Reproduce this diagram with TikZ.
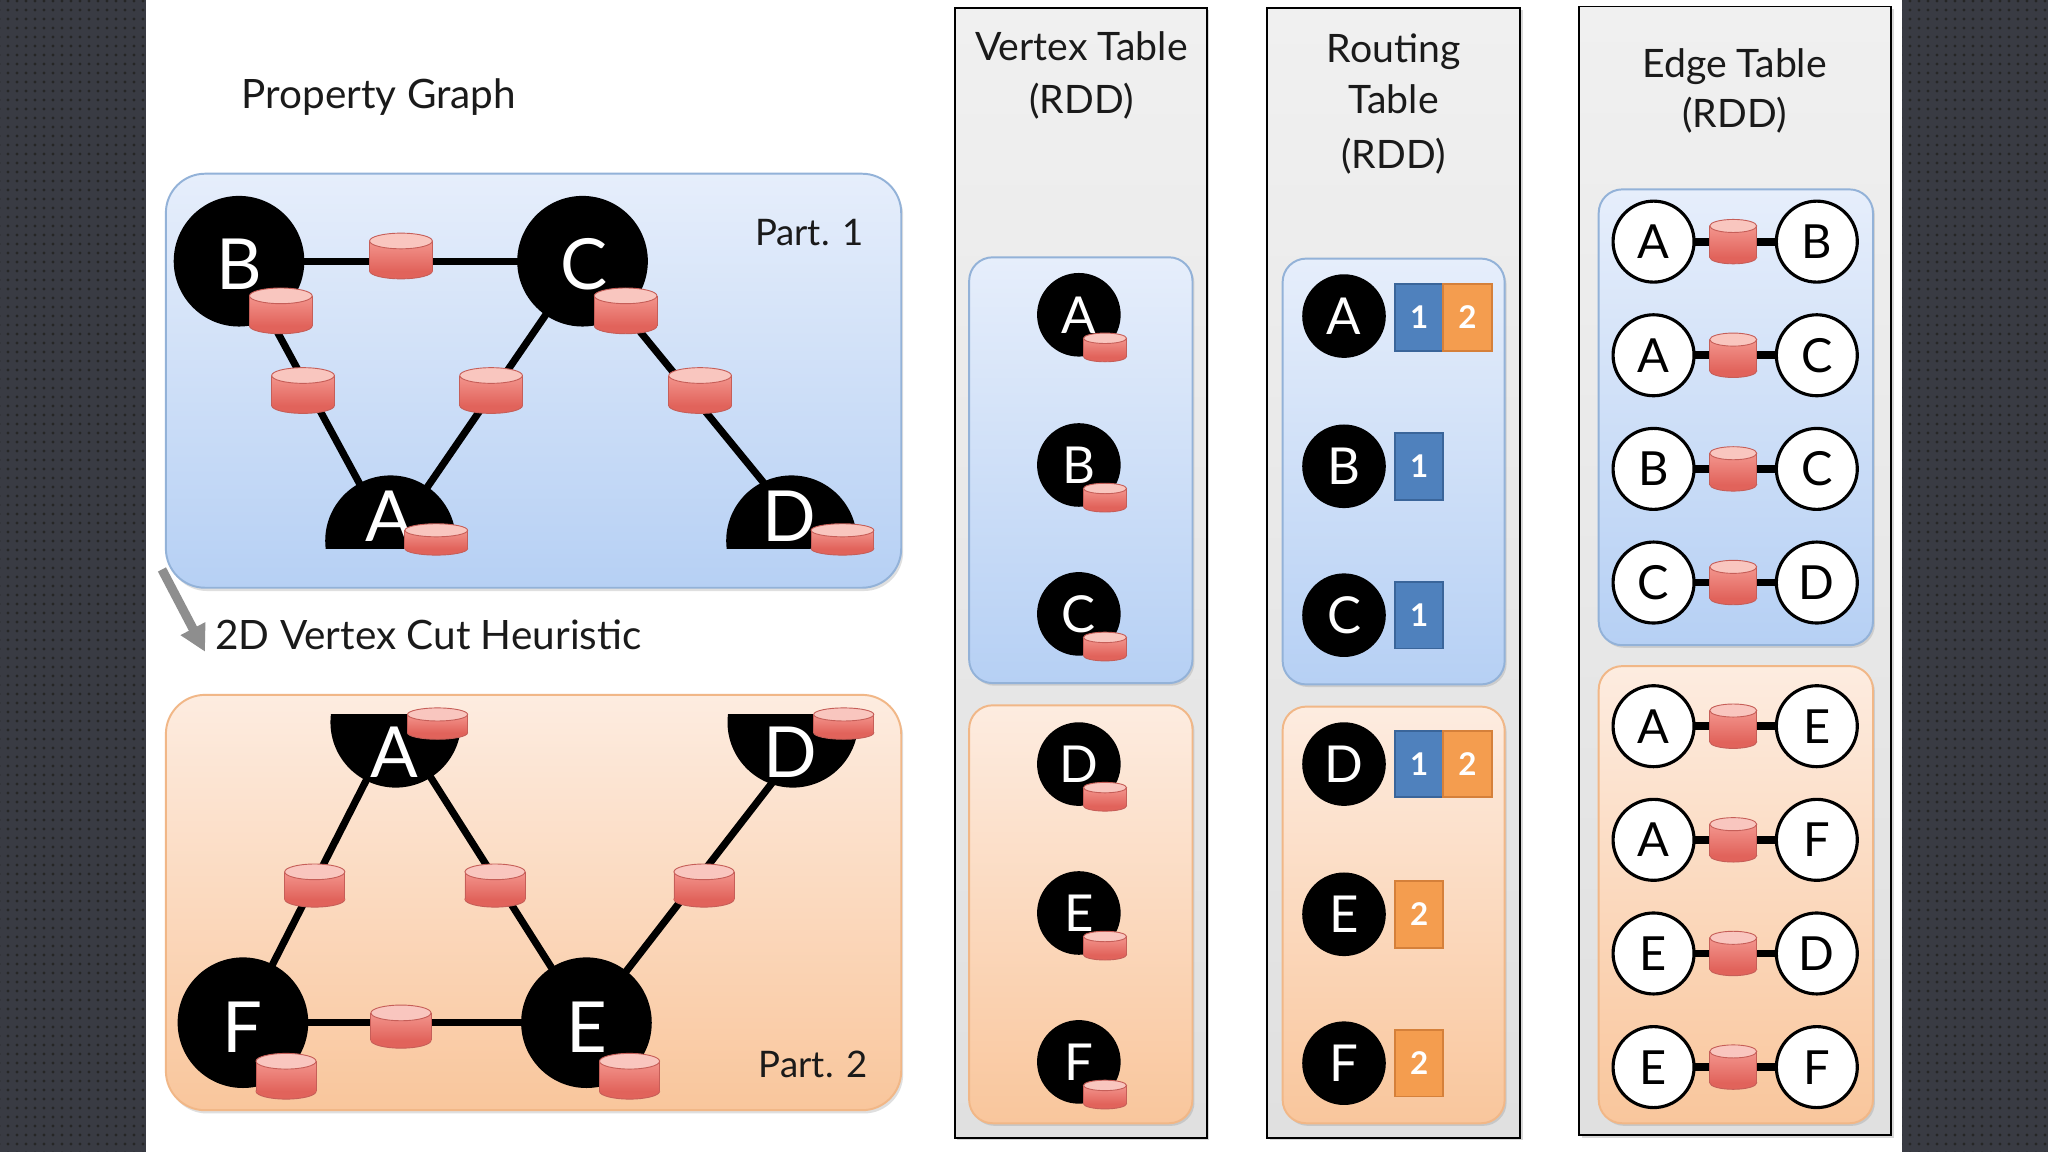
\documentclass[tikz,border=0pt]{standalone}
\usepackage{fontspec}
\setmainfont{Lato}
\usetikzlibrary{arrows.meta,shadows,patterns.meta,calc}
\pgfdeclarelayer{bg}
\pgfdeclarelayer{edges}
\pgfsetlayers{bg,edges,main}
\definecolor{darkbg}{HTML}{393B43}
\definecolor{txt}{HTML}{1A1A1A}
\definecolor{bluetop}{HTML}{E6EEFB}
\definecolor{bluebot}{HTML}{B6D0F4}
\definecolor{blueline}{HTML}{93B2D8}
\definecolor{orgtop}{HTML}{FDECE0}
\definecolor{orgbot}{HTML}{F9C69C}
\definecolor{orgline}{HTML}{F1B787}
\definecolor{coltop}{HTML}{F0F0F0}
\definecolor{colbot}{HTML}{E0E0E0}
\definecolor{drumtop}{HTML}{F9C6BF}
\definecolor{drumhi}{HTML}{F3958D}
\definecolor{drumlo}{HTML}{E1635B}
\definecolor{drumline}{HTML}{C65E58}
\definecolor{sqblue}{HTML}{4F81BD}
\definecolor{sqblueline}{HTML}{3A659A}
\definecolor{sqorg}{HTML}{F49D4F}
\definecolor{sqorgline}{HTML}{D5803A}
\definecolor{arrowgray}{HTML}{8E8E8E}
\tikzset{
  every node/.style={inner sep=0pt, outer sep=0pt},
  partblue/.style={rounded corners=30pt, top color=bluetop, bottom color=bluebot, draw=blueline, line width=1.5pt, drop shadow={opacity=0.25, shadow xshift=1.5pt, shadow yshift=-2.5pt}},
  partorg/.style={rounded corners=30pt, top color=orgtop, bottom color=orgbot, draw=orgline, line width=1.5pt, drop shadow={opacity=0.25, shadow xshift=1.5pt, shadow yshift=-2.5pt}},
  innerblue/.style={rounded corners=18pt, top color=bluetop, bottom color=bluebot, draw=blueline, line width=1.5pt, drop shadow={opacity=0.25, shadow xshift=1.5pt, shadow yshift=-2pt}},
  innerorg/.style={rounded corners=18pt, top color=orgtop, bottom color=orgbot, draw=orgline, line width=1.5pt, drop shadow={opacity=0.25, shadow xshift=1.5pt, shadow yshift=-2pt}},
  column/.style={top color=coltop, bottom color=colbot, draw=black, line width=1.4pt, drop shadow={opacity=0.3, shadow xshift=2pt, shadow yshift=-2pt}},
  bigvtx/.style={circle, fill=black, minimum size=100pt},
  bigletter/.style={text=white, font=\fontsize{54}{54}\selectfont, text height=39pt, text depth=0pt},
  tvtx/.style={circle, fill=black, minimum size=64pt, text=white, font=\fontsize{39}{39}\selectfont, text height=28pt, text depth=0pt},
  evtx/.style={circle, fill=white, draw=black, line width=2.4pt, minimum size=62pt, text=black, font=\fontsize{36}{36}\selectfont, text height=26pt, text depth=0pt},
  graphedge/.style={line width=5.5pt, black},
  sqb/.style={rectangle, minimum width=37pt, minimum height=51pt, fill=sqblue, draw=sqblueline, line width=1.5pt, text=white, font=\bfseries\fontsize{24}{24}\selectfont},
  sqo/.style={rectangle, minimum width=37pt, minimum height=51pt, fill=sqorg, draw=sqorgline, line width=1.5pt, text=white, font=\bfseries\fontsize{24}{24}\selectfont},
  coltitle/.style={font=\fontsize{30}{30}\selectfont, text=txt, anchor=base},
  pics/drum/.style n args={3}{code={
    \fill[drumlo] (0,{#2/2-#3}) ellipse [x radius={#1/2}, y radius=#3];
    \draw[drumline, line width=0.7pt] (0,{#2/2-#3}) ellipse [x radius={#1/2}, y radius=#3];
    \shade[top color=drumhi, bottom color=drumlo] ({-#1/2},{-#2/2+#3}) rectangle ({#1/2},{#2/2-#3});
    \draw[drumline, line width=0.7pt] ({-#1/2},{-#2/2+#3}) -- ({-#1/2},{#2/2-#3}) ({#1/2},{-#2/2+#3}) -- ({#1/2},{#2/2-#3});
    \filldraw[fill=drumtop, draw=drumline, line width=0.7pt] (0,{-#2/2+#3}) ellipse [x radius={#1/2}, y radius=#3];
  }}
}
\begin{document}
\begin{tikzpicture}[x=1pt, y=-1pt]
\useasboundingbox (0,0) rectangle (1568,882);
\begin{pgfonlayer}{bg}
  \fill[darkbg] (0,0) rectangle (112,882);
  \fill[darkbg] (1456,0) rectangle (1568,882);
  \fill[pattern={Dots[distance=6.5pt, radius=1.4pt]}, pattern color=black!85] (0,0) rectangle (112,882);
  \fill[pattern={Dots[distance=6.5pt, radius=1.4pt]}, pattern color=black!85] (1456,0) rectangle (1568,882);
  \fill[white] (112,0) rectangle (1456,882);
  % partition boxes
  \path[partblue] (127,133) rectangle (690,450);
  \path[partorg] (127,532) rectangle (690,850);
  % columns
  \path[column] (731,6) rectangle (924,871);
  \path[column] (970,6) rectangle (1164,871);
  \path[column] (1209,5) rectangle (1448,869);
  \path[innerblue] (742,197) rectangle (913,523);
  \path[innerorg] (742,540) rectangle (913,860);
  \path[innerblue] (982,198) rectangle (1152,524);
  \path[innerorg] (982,541) rectangle (1152,860);
  \path[innerblue] (1224,145) rectangle (1434,494);
  \path[innerorg] (1224,510) rectangle (1434,860);
\end{pgfonlayer}

% titles
\node[font=\fontsize{31}{31}\selectfont, text=txt, anchor=base west] (ttl) at (185,83) {Property Graph};
\node[font=\fontsize{31}{31}\selectfont, text=txt, anchor=base west] (cut) at (165,497) {2D Vertex Cut Heuristic};
\node[font=\fontsize{28}{28}\selectfont, text=txt, anchor=base east] (p1) at (661,188) {Part. 1};
\node[font=\fontsize{28}{28}\selectfont, text=txt, anchor=base east] (p2) at (664,825) {Part. 2};
\node[coltitle] (vt1) at (828,46) {Vertex Table};
\node[coltitle] (vt2) at (828,87) {(RDD)};
\node[coltitle] (rt1) at (1067,48) {Routing};
\node[coltitle] (rt2) at (1067,87) {Table};
\node[coltitle] (rt3) at (1067,129) {(RDD)};
\node[coltitle] (et1) at (1328,59) {Edge Table};
\node[coltitle] (et2) at (1328,98) {(RDD)};

% arrow
\coordinate (arS) at (124,436);
\coordinate (arT) at (157,499);
\draw[line width=7pt, arrowgray, -{Triangle[width=20pt,length=20pt]}] (arS) -- (arT);

% ---------- Part 1 ----------
\node[bigvtx] (B1) at (183,200) {};
\node[bigvtx] (C1) at (446,200) {};
\begin{scope}
  \clip (240,350) rectangle (362,420);
  \node[bigvtx] (A1) at (299,414) {};
\end{scope}
\begin{scope}
  \clip (545,350) rectangle (672,420);
  \node[bigvtx] (D1) at (606,414) {};
\end{scope}
\node[bigletter] (B1l) at (183,202) {B};
\node[bigletter] (C1l) at (447,202) {C};
\node[bigletter] (A1l) at (298,395) {A};
\node[bigletter] (D1l) at (604,395) {D};

% ---------- Part 2 ----------
\node[bigvtx] (F2) at (186,783) {};
\node[bigvtx] (E2) at (449,783) {};
\begin{scope}
  \clip (240,547) rectangle (372,620);
  \node[bigvtx] (A2) at (303,553) {};
\end{scope}
\begin{scope}
  \clip (545,547) rectangle (672,620);
  \node[bigvtx] (D2) at (607,553) {};
\end{scope}
\node[bigletter] (F2l) at (186,786) {F};
\node[bigletter] (E2l) at (449,786) {E};
\node[bigletter] (A2l) at (302,576) {A};
\node[bigletter] (D2l) at (605,576) {D};

\begin{pgfonlayer}{edges}
  \draw[graphedge] (B1.center) -- (C1.center);
  \draw[graphedge] (B1.center) -- (A1.center);
  \draw[graphedge] (C1.center) -- (A1.center);
  \draw[graphedge] (C1.center) -- ($(D1.center)+(15,0)$);
  \draw[graphedge] (F2.center) -- (E2.center);
  \draw[graphedge] (A2.center) -- (F2.center);
  \draw[graphedge] (A2.center) -- (E2.center);
  \draw[graphedge] (E2.center) -- ($(D2.center)+(20,0)$);
\end{pgfonlayer}

% part 1 drums
\pic (g1) at (307,196) {drum={48}{35}{6}};
\pic (g2) at (215,238) {drum={48}{35}{6}};
\pic (g3) at (479,238) {drum={48}{35}{6}};
\pic (g4) at (232,299) {drum={48}{35}{6}};
\pic (g5) at (376,299) {drum={48}{35}{6}};
\pic (g6) at (536,299) {drum={48}{35}{6}};
\pic (g7) at (334,413) {drum={48}{24}{5}};
\pic (g8) at (645,413) {drum={48}{24}{5}};
% part 2 drums
\pic (h1) at (241,678) {drum={46}{33}{6}};
\pic (h2) at (379,678) {drum={46}{33}{6}};
\pic (h3) at (539,678) {drum={46}{33}{6}};
\pic (h4) at (307,786) {drum={46}{33}{6}};
\pic (h5) at (219,824) {drum={46}{35}{6}};
\pic (h6) at (482,824) {drum={46}{35}{6}};
\pic (h7) at (335,554) {drum={46}{24}{5}};
\pic (h8) at (646,554) {drum={46}{24}{5}};

% ---------- Vertex table ----------
\foreach \l/\y [count=\i] in {A/241,B/356,C/470,D/585,E/699,F/813}{
  \node[tvtx] (vt\l) at (826,\y) {\l};
  \pic (vd\i) at (846,\y+25) {drum={33}{22}{4}};
}

% ---------- Routing table ----------
\foreach \l/\y in {A/242,B/357,C/471,D/585,E/700,F/814}{
  \node[tvtx] (rt\l) at (1029,\y) {\l};
}
\node[sqb] (rA1) at (1086.5,243) {1};
\node[sqo] (rA2) at (1123.5,243) {2};
\node[sqb] (rB1) at (1086.5,357) {1};
\node[sqb] (rC1) at (1086.5,471) {1};
\node[sqb] (rD1) at (1086.5,585) {1};
\node[sqo] (rD2) at (1123.5,585) {2};
\node[sqo] (rE2) at (1086.5,700) {2};
\node[sqo] (rF2) at (1086.5,814) {2};

% ---------- Edge table ----------
\foreach \a/\b/\y [count=\i] in {A/B/185,A/C/272,B/C/359,C/D/446,A/E/556,A/F/643,E/D/730,E/F/817}{
  \node[evtx] (eL\i) at (1266,\y) {\a};
  \node[evtx] (eR\i) at (1391,\y) {\b};
  \begin{pgfonlayer}{edges}
    \draw[line width=6pt, black] (eL\i) -- (eR\i);
  \end{pgfonlayer}
  \pic (ed\i) at (1327,\y) {drum={36}{34}{5}};
}
\end{tikzpicture}
\end{document}
